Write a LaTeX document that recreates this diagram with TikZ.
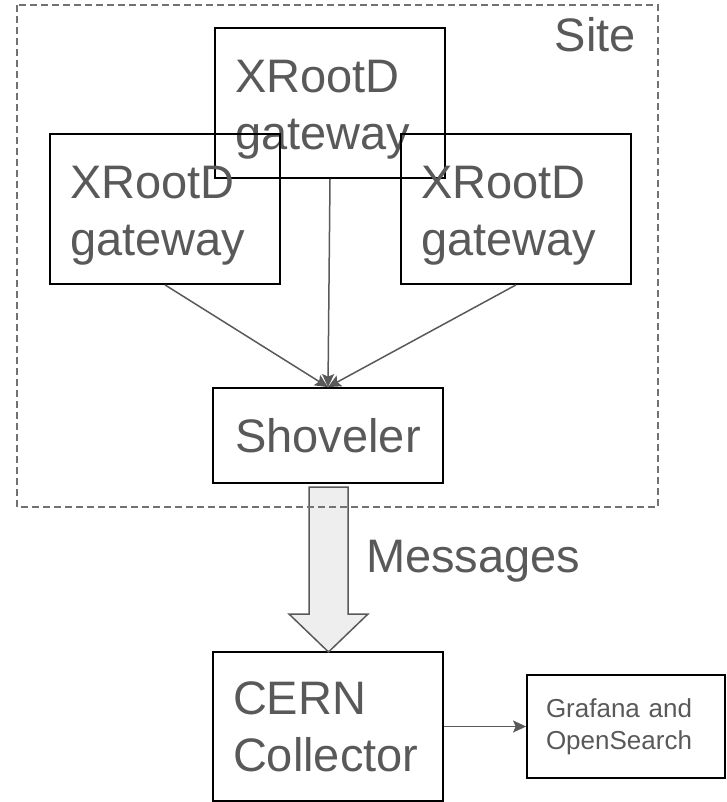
\documentclass[tikz,border=0pt]{standalone}
\usepackage{fontspec}
\setmainfont{Liberation Sans}
\usetikzlibrary{arrows.meta}
\definecolor{txtgray}{HTML}{595959}
\definecolor{arrowfill}{HTML}{EEEEEE}
\tikzset{
    box/.style={draw=black, line width=1.8pt, minimum width=230pt, inner sep=0pt},
    bigtext/.style={text=txtgray, font=\fontsize{47}{57}\selectfont},
    twoline/.style={text width=190pt, align=left},
    lowered/.style={execute at begin node={\rule{0pt}{46pt}}},
    link/.style={draw=txtgray, line width=1.5pt, -{Stealth[length=13pt,width=12pt,inset=2.5pt]}},
}
\begin{document}
\begin{tikzpicture}[x=1pt, y=-1pt]
        \useasboundingbox (0,0) rectangle (727,802);
        \node[box, minimum height=150pt, bigtext, twoline, lowered] (gwtop) at (330,103) {XRootD\\gateway};
        \node[box, minimum height=150pt, bigtext, twoline, lowered] (gwleft) at (165,209) {XRootD\\gateway};
        \node[box, minimum height=150pt, bigtext, twoline, lowered] (gwright) at (516,209) {XRootD\\gateway};
        \node[box, minimum height=95pt, bigtext] (shoveler) at (328,435.5) {Shoveler};
        \node[box, minimum height=149pt, bigtext, twoline] (collector) at (328,726.5) {CERN\\Collector};
        \node[box, minimum width=198pt, minimum height=103pt, text=txtgray, text width=160pt, align=left,
              font=\fontsize{26}{32}\selectfont] (grafana) at (626,726.5) {Grafana and\\OpenSearch};
        \node[bigtext, anchor=base east, inner sep=0pt] (site) at (636,52) {Site};
        \node[bigtext, anchor=base west, inner sep=0pt] (msg) at (366,572) {Messages};
        \draw[link] (gwleft.south) -- (shoveler.north);
        \draw[link] (gwtop.south) -- (shoveler.north);
        \draw[link] (gwright.south) -- (shoveler.north);
        \draw[link] (collector.east) -- (grafana.west);
        % fat arrow
        \coordinate (mtop) at (328.5,487);
        \coordinate (mtip) at (328.5,652);
        \draw[draw=txtgray, fill=arrowfill, line width=1.5pt, line join=miter]
            (mtop) ++(-19.5,0) -- ++(0,127) -- ++(-20,0) -- (mtip)
            -- ++(39.5,-38) -- ++(-20,0) -- ++(0,-127) -- cycle;
        \draw[txtgray!85, line width=1.4pt, dash pattern=on 7pt off 4pt] (17,5) rectangle (658,507);
    \end{tikzpicture}
\end{document}
